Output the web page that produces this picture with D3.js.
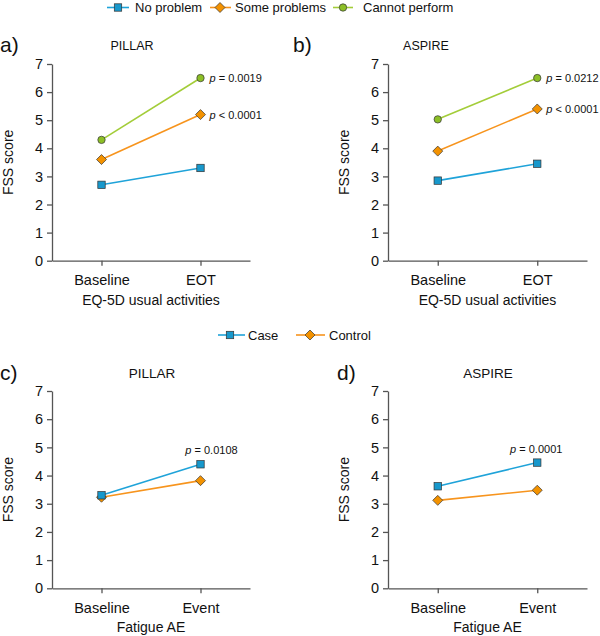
<!DOCTYPE html>
<html>
<head>
<meta charset="utf-8">
<script src="https://cdn.jsdelivr.net/npm/d3@7"></script>
<style>
  body { margin: 0; background: #fff; }
  svg { font-family: "Liberation Sans", Arial, sans-serif; }
</style>
</head>
<body>
<svg width="600" height="636"></svg>
<script>
// ---- data ----
var topTimes = ["Baseline", "EOT"];
var bottomTimes = ["Baseline", "Event"];
var yTicks = [0, 1, 2, 3, 4, 5, 6, 7];

var usualKeys = ["No problem", "Some problems", "Cannot perform"];
var pillarNoProblem = [2.7, 3.3];
var pillarSomeProblems = [3.6, 5.2];
var pillarCannotPerform = [4.3, 6.5];
var aspireNoProblem = [2.85, 3.45];
var aspireSomeProblems = [3.9, 5.4];
var aspireCannotPerform = [5.03, 6.5];
var pillarUsualP = [null, "p < 0.0001", "p = 0.0019"];
var aspireUsualP = [null, "p < 0.0001", "p = 0.0212"];

var fatigueKeys = ["Case", "Control"];
var pillarCase = [3.3, 4.4];
var pillarControl = [3.23, 3.82];
var aspireCase = [3.62, 4.46];
var aspireControl = [3.12, 3.48];
var pillarFatigueP = "p = 0.0108";
var aspireFatigueP = "p = 0.0001";

// ---- styles ----
var styles = {
    "No problem":     { line: "#1fa3d9", fill: "#1798cc", shape: "square" },
    "Some problems":  { line: "#f7941d", fill: "#f39200", shape: "diamond" },
    "Cannot perform": { line: "#a3cd39", fill: "#8cbf26", shape: "circle" },
    "Case":           { line: "#1fa3d9", fill: "#1798cc", shape: "square" },
    "Control":        { line: "#f7941d", fill: "#f39200", shape: "diamond" }
};

var svg = d3.select("svg");

function drawMarker(g, x, y, st) {
    if (st.shape == "square") {
        g.append("rect").attr("x", x - 3.7).attr("y", y - 3.7)
            .attr("width", 7.4).attr("height", 7.4)
            .attr("fill", st.fill).attr("stroke", "#333").attr("stroke-width", 0.7);
    } else if (st.shape == "diamond") {
        g.append("path")
            .attr("d", "M" + x + "," + (y - 5) + "L" + (x + 5) + "," + y + "L" + x + "," + (y + 5) + "L" + (x - 5) + "," + y + "Z")
            .attr("fill", st.fill).attr("stroke", "#333").attr("stroke-width", 0.7);
    } else {
        g.append("circle").attr("cx", x).attr("cy", y).attr("r", 3.7)
            .attr("fill", st.fill).attr("stroke", "#333").attr("stroke-width", 0.7);
    }
}

function pText(sel, label) {
    // italic p, rest normal
    sel.append("tspan").attr("font-style", "italic").text(label.slice(0, 1));
    sel.append("tspan").text(label.slice(1));
}

function panel(cfg) {
    var x = d3.scalePoint().domain(cfg.times).range([cfg.left, cfg.right]).padding(0.5);
    var y = d3.scaleLinear().domain([0, 7]).range([cfg.bottom, cfg.top]);
    var g = svg.append("g");

    g.append("text").attr("x", cfg.letterX).attr("y", cfg.titleY + 7)
        .attr("font-size", 21).attr("fill", "#111").text(cfg.letter);
    g.append("text").attr("x", cfg.titleX).attr("y", cfg.titleY + 4.5)
        .attr("text-anchor", "middle").attr("font-size", cfg.titleSize).attr("fill", "#111").text(cfg.title);

    var ya = g.append("g").attr("transform", "translate(" + cfg.left + ",0)")
        .call(d3.axisLeft(y).tickValues(yTicks).tickFormat(d3.format("d")).tickSize(5).tickPadding(4).tickSizeOuter(0));
    var xa = g.append("g").attr("transform", "translate(0," + cfg.bottom + ")")
        .call(d3.axisBottom(x).tickSize(5).tickPadding(9).tickSizeOuter(0));
    [ya, xa].forEach(function (a) {
        a.select(".domain").attr("stroke", "#555").attr("stroke-width", 1.3);
        a.selectAll(".tick line").attr("stroke", "#555").attr("stroke-width", 1.3);
        a.selectAll(".tick text").attr("font-size", 14.5).attr("fill", "#111")
            .attr("font-family", "Liberation Sans, Arial, sans-serif");
    });

    g.append("text").attr("transform", "translate(" + (cfg.left - 39) + "," + ((cfg.top + cfg.bottom) / 2) + ") rotate(-90)")
        .attr("text-anchor", "middle").attr("font-size", 14).attr("fill", "#111").text("FSS score");
    g.append("text").attr("x", (cfg.left + cfg.right) / 2).attr("y", cfg.bottom + 44)
        .attr("text-anchor", "middle").attr("font-size", 14).attr("fill", "#111").text(cfg.xTitle);

    var line = d3.line().x(function (d, i) { return x(cfg.times[i]); }).y(function (d) { return y(d); });

    cfg.series.forEach(function (s) {
        var st = styles[s.key];
        g.append("path").datum(s.values).attr("d", line)
            .attr("fill", "none").attr("stroke", st.line).attr("stroke-width", 1.6);
    });
    cfg.series.forEach(function (s) {
        var st = styles[s.key];
        s.values.forEach(function (v, i) { drawMarker(g, x(cfg.times[i]), y(v), st); });
        if (s.p) {
            var t = g.append("text").attr("font-size", 11).attr("fill", "#111");
            var last = s.values[s.values.length - 1];
            if (cfg.pAbove) {
                t.attr("x", x(cfg.times[1]) + cfg.pDx).attr("y", y(last) - 10).attr("text-anchor", "middle");
            } else {
                t.attr("x", x(cfg.times[1]) + 9).attr("y", y(last) + 4);
            }
            pText(t, s.p);
        }
    });
}

function legend(items, yPos) {
    var lg = svg.append("g");
    items.forEach(function (it) {
        var st = styles[it.key];
        lg.append("line").attr("x1", it.x1).attr("x2", it.x2).attr("y1", yPos).attr("y2", yPos)
            .attr("stroke", st.line).attr("stroke-width", 1.6);
        drawMarker(lg, it.m, yPos, st);
        lg.append("text").attr("x", it.tx).attr("y", yPos + 4.5)
            .attr("font-size", 13).attr("fill", "#111").text(it.key);
    });
}

legend([
    { key: usualKeys[0], x1: 107, x2: 129, m: 118, tx: 135 },
    { key: usualKeys[1], x1: 210, x2: 231, m: 220, tx: 235 },
    { key: usualKeys[2], x1: 333, x2: 353, m: 343, tx: 363 }
], 7.5);

legend([
    { key: fatigueKeys[0], x1: 218, x2: 245, m: 230, tx: 248 },
    { key: fatigueKeys[1], x1: 296, x2: 325, m: 310, tx: 329 }
], 335);

panel({
    letter: "a)", letterX: 0, title: "PILLAR", titleX: 132, titleY: 45, titleSize: 12.5,
    left: 52, right: 250, top: 64, bottom: 260.7, times: topTimes, xTitle: "EQ-5D usual activities",
    series: [
        { key: usualKeys[0], values: pillarNoProblem, p: pillarUsualP[0] },
        { key: usualKeys[1], values: pillarSomeProblems, p: pillarUsualP[1] },
        { key: usualKeys[2], values: pillarCannotPerform, p: pillarUsualP[2] }
    ]
});
panel({
    letter: "b)", letterX: 293, title: "ASPIRE", titleX: 426, titleY: 45, titleSize: 12.5,
    left: 388, right: 587, top: 64, bottom: 260.7, times: topTimes, xTitle: "EQ-5D usual activities",
    series: [
        { key: usualKeys[0], values: aspireNoProblem, p: aspireUsualP[0] },
        { key: usualKeys[1], values: aspireSomeProblems, p: aspireUsualP[1] },
        { key: usualKeys[2], values: aspireCannotPerform, p: aspireUsualP[2] }
    ]
});
panel({
    letter: "c)", letterX: 0, title: "PILLAR", titleX: 152, titleY: 373, titleSize: 13.5,
    left: 52, right: 250, top: 391, bottom: 588.3, times: bottomTimes, xTitle: "Fatigue AE",
    pAbove: true, pDx: 11,
    series: [
        { key: fatigueKeys[1], values: pillarControl },
        { key: fatigueKeys[0], values: pillarCase, p: pillarFatigueP }
    ]
});
panel({
    letter: "d)", letterX: 337, title: "ASPIRE", titleX: 488, titleY: 373, titleSize: 13.5,
    left: 388, right: 587, top: 391, bottom: 588.3, times: bottomTimes, xTitle: "Fatigue AE",
    pAbove: true, pDx: -1,
    series: [
        { key: fatigueKeys[1], values: aspireControl },
        { key: fatigueKeys[0], values: aspireCase, p: aspireFatigueP }
    ]
});
</script>
</body>
</html>
